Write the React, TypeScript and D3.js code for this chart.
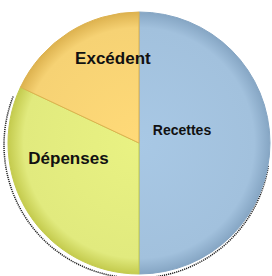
import { useRef, useEffect } from 'react';
import * as d3 from 'd3';

const labels = ['Recettes', 'Dépenses', 'Excédent'];
const values = [100, 64, 36];
const baseColors = ['#a2c1dd', '#e1ea7e', '#f6d274'];
const edgeColors = ['#86a6c4', '#c4cb4e', '#ddb24f'];
const labelSizes = [14, 17, 17];
const labelRadius = [43, 80, 86];
const labelNudge: [number, number][] = [[0, -13], [-3, -28], [20, -12]];

export default function App() {
  const svgRef = useRef<SVGSVGElement>(null);

  useEffect(() => {
    if (!svgRef.current) return;
    const svg = d3.select(svgRef.current);
    svg.selectAll('*').remove();

    const cx = 139;
    const cy = 143;
    const r = 131;

    const defs = svg.append('defs');
    baseColors.forEach((c, i) => {
      const grad = defs.append('radialGradient')
        .attr('id', `g${i}`)
        .attr('gradientUnits', 'userSpaceOnUse')
        .attr('cx', 0).attr('cy', 0).attr('r', r);
      grad.append('stop').attr('offset', '0%').attr('stop-color', d3.color(c)!.brighter(0.1).formatHex());
      grad.append('stop').attr('offset', '88%').attr('stop-color', c);
      grad.append('stop').attr('offset', '100%').attr('stop-color', edgeColors[i]);
    });

    const pie = d3.pie<number>().sort(null).value((d) => d);
    const arcs = pie(values);
    const arc = d3.arc<d3.PieArcDatum<number>>().innerRadius(0).outerRadius(r);

    const g = svg.append('g').attr('transform', `translate(${cx},${cy})`);

    // dotted shadow rim on the lower side
    const rim = d3.arc()
      .innerRadius(r + 2)
      .outerRadius(r + 2)
      .startAngle(Math.PI * 0.55)
      .endAngle(Math.PI * 1.62);
    g.append('path')
      .attr('d', rim({} as any) as string)
      .attr('transform', 'translate(-2,2)')
      .attr('fill', 'none')
      .attr('stroke', '#222')
      .attr('stroke-width', 1.5)
      .attr('stroke-dasharray', '1.2 3');

    g.selectAll('path.slice')
      .data(arcs)
      .join('path')
      .attr('class', 'slice')
      .attr('d', arc)
      .attr('fill', (_, i) => `url(#g${i})`)
      .attr('stroke', (_, i) => edgeColors[i])
      .attr('stroke-width', 1);

    g.selectAll('text.lbl')
      .data(arcs)
      .join('text')
      .attr('class', 'lbl')
      .attr('transform', (d, i) => {
        const la = d3.arc<d3.PieArcDatum<number>>().innerRadius(labelRadius[i]).outerRadius(labelRadius[i]);
        const [x, y] = la.centroid(d);
        return `translate(${x + labelNudge[i][0]},${y + labelNudge[i][1]})`;
      })
      .attr('text-anchor', 'middle')
      .attr('dy', '0.35em')
      .attr('font-family', 'Liberation Sans, Arial, sans-serif')
      .attr('font-weight', 'bold')
      .attr('font-size', (_, i) => labelSizes[i])
      .attr('fill', '#111')
      .text((_, i) => labels[i]);
  }, []);

  return (
    <svg
      ref={svgRef}
      width={272}
      height={276}
      style={{ position: 'absolute', left: 0, top: 0, background: '#fff' }}
    />
  );
}
